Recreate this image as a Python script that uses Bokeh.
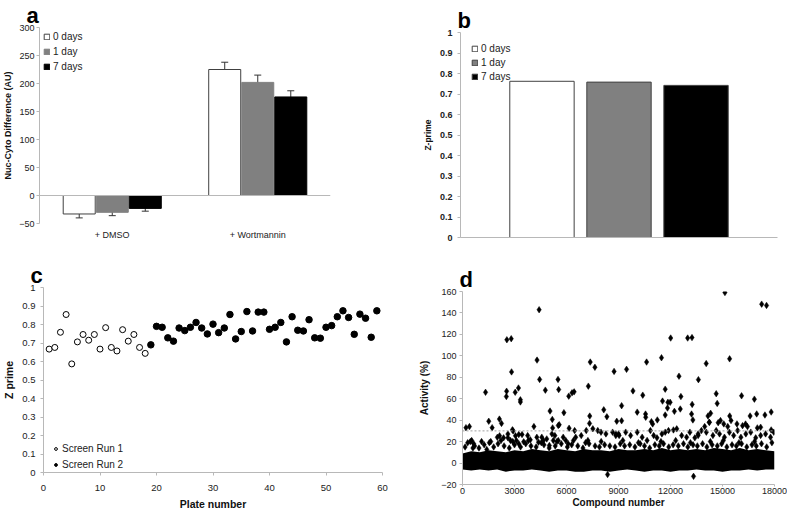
from bokeh.plotting import figure
from bokeh.layouts import column, row
from bokeh.models import (ColumnDataSource, Whisker, TeeHead, Span, FixedTicker,
                          CustomJSTickFormatter, Range1d, Spacer)
from bokeh.embed import file_html
from bokeh.resources import INLINE

FONT = "Liberation Sans"

# ---------------- data ----------------
# panel a
a_categories = ["+ DMSO", "+ Wortmannin"]
a_series = ["0 days", "1 day", "7 days"]
a_dmso = [-33, -30, -23]
a_dmso_err = [7, 6, 5]
a_wort = [225, 202, 176]
a_wort_err = [13, 13, 11]
a_yticks = [-50, 0, 50, 100, 150, 200, 250, 300]

# panel b
b_series = ["0 days", "1 day", "7 days"]
b_zprime = [0.762, 0.758, 0.742]
z_ticks = [0, 0.1, 0.2, 0.3, 0.4, 0.5, 0.6, 0.7, 0.8, 0.9, 1]

# panel c
c_run1_plate = [1, 2, 3, 4, 5, 6, 7, 8, 9, 10, 11, 12, 13, 14, 15, 16, 17, 18]
c_run1_z = [0.667, 0.676, 0.758, 0.854, 0.587, 0.706, 0.746, 0.715, 0.746, 0.667,
            0.783, 0.676, 0.657, 0.772, 0.710, 0.746, 0.676, 0.644]
c_run2_plate = [19, 20, 21, 22, 23, 24, 25, 26, 27, 28, 29, 30, 31, 32, 33, 34, 35, 36, 37, 38,
                39, 40, 41, 42, 43, 44, 45, 46, 47, 48, 49, 50, 51, 52, 53, 54, 55, 56, 57, 58, 59]
c_run2_z = [0.690, 0.790, 0.785, 0.728, 0.710, 0.781, 0.767, 0.785, 0.811, 0.781,
            0.749, 0.802, 0.756, 0.781, 0.854, 0.722, 0.762, 0.870, 0.765, 0.867,
            0.867, 0.774, 0.785, 0.811, 0.706, 0.842, 0.769, 0.765, 0.826, 0.728,
            0.726, 0.785, 0.794, 0.842, 0.874, 0.838, 0.747, 0.856, 0.834, 0.731, 0.874]
c_xticks = [0, 10, 20, 30, 40, 50, 60]

# panel d: envelope of the dense band of inactive compounds, plus individual compounds
d_band_compound = [0, 500, 1000, 1500, 2000, 2500, 3000, 3500, 4000, 4500, 5000, 5500, 6000,
                   6500, 7000, 7500, 8000, 8500, 9000, 9500, 10000, 10500, 11000, 11500, 12000,
                   12500, 13000, 13500, 14000, 14500, 15000, 15500, 16000, 16500, 17000, 17500,
                   18000]
d_band_top = [9, 11, 10, 12, 11, 10, 12, 11, 13, 12, 11, 13, 12, 11, 13, 12, 12, 11, 13, 12,
              12, 13, 12, 14, 12, 13, 12, 13, 12, 14, 13, 12, 14, 12, 13, 12, 11]
d_band_bottom = [-6, -7, -6, -7, -6, -8, -7, -7, -6, -7, -8, -7, -7, -8, -8, -7, -7, -8, -7, -6,
                 -7, -8, -7, -7, -8, -7, -7, -6, -7, -7, -8, -7, -7, -6, -7, -6, -6]
d_compound = [200, 400, 1330, 1515, 1710, 2130, 2250, 2545, 2530, 2560, 2810, 2830, 2880, 3040,
              3230, 3340, 3340, 4120, 4300, 4420, 4450, 4780, 5050, 5180, 5510, 5550, 5580,
              5850, 6130, 6320, 6440, 7260, 7370, 7340, 7330, 7640, 8150, 8330, 8745, 8900,
              9180, 9180, 9465, 9835, 10080, 10400, 10560, 10570, 10620, 10900, 10970, 11240,
              11480, 11540, 11695, 11695, 11825, 11850, 11980, 12010, 12225, 12490, 12565,
              12600, 12990, 13240, 13250, 13215, 13290, 13610, 14060, 14163, 14315, 14240,
              14637, 14694, 14750, 15140, 15410, 15416, 15492, 16100, 16330, 16593, 16840,
              16973, 17201, 17260, 17448, 17540, 17809, 17809,
              8370, 13330,
              530, 300, 645, 600, 1100, 1400, 1630, 2010, 2140, 2220, 2370, 2620, 2620, 2770,
              2920, 3055, 3245, 3435, 3760, 3110, 3530, 3245, 3910, 4290, 4385,
              5525, 6150, 5200, 5160, 5330, 4575, 4670, 4860, 5010, 5240, 5525, 5810, 5960,
              6095, 6470, 6530, 6850, 7140, 7235, 7520, 7805, 7990, 8275, 8660, 8845, 9000,
              9416, 9700, 10080, 10365, 10650, 10840, 11030, 11220, 11505, 11695, 11885,
              12170, 12360, 12645, 12930, 13120, 13405, 13595, 9036, 8846,
              13593, 13783, 14068, 14447, 14637, 14827, 15112, 15397, 15644, 15872, 16062,
              16347, 16631, 16916, 17201, 17486, 17771, 17961,
              14884, 15074, 15302, 15834, 16156, 16441, 17011, 13973, 14239,
              150, 700, 950, 1250, 1800, 2050, 2400, 2700, 3000, 3350, 3650, 3950, 4250,
              4700, 5000, 5350, 5700, 6050, 6300, 6650, 6950, 7300, 7650, 7900, 8200, 8500,
              8800, 9100, 9350, 9650, 9950, 10250, 10500, 10800, 11100, 11350, 11600, 11900,
              12150, 12450, 12750, 13000, 13300, 13550, 13850, 14100, 14400, 14700, 14950,
              15250, 15550, 15800, 16100, 16400, 16700, 16950, 17250, 17550, 17850,
              450, 1550, 2900, 3800, 4550, 5450, 6400, 7100, 8000, 9250, 10150, 11450, 12300,
              13150, 14300, 15050, 15950, 16850, 17650]
d_activity = [33, 34, 66, 39, 33, 41, 37, 67, 62, 115, 116, 85, 31, 66,
              70, 59, 57, 34, 96, 143, 78, 68, 48.5, 40.7, 78, 68.5, 35.8,
              47, 62.4, 65.5, 66.4, 71.7, 94.2, 43.8, 37, 89.3, 49.7, 43.2, 85.5, 39,
              39.4, 53.5, 87.4, 67.3, 47.5, 63.3, 45.7, 42.7, 94.2, 38.6, 36.5, 40.2,
              98.2, 57.8, 68.9, 44.8, 51.3, 56.6, 56.6, 116.6, 48.2, 81, 50.4,
              62, 116.6, 117, 54.7, 45.7, 40.2, 77.8, 92.8, 43.9, 46.4, 38,
              64.7, 55.6, 37.7, 159, 97.2, 43.9, 39.6, 62.7, 36.4, 43.9, 59.6,
              45.8, 33.4, 148.2, 44.8, 147, 47.6, 30.9,
              -10.7, -12.4,
              21, 19, 18, 14, 20, 12.7, 20, 24, 25.4, 21, 23.5, 27, 23.5, 21,
              30, 25.4, 26.6, 26.6, 25.6, 21, 19.8, 18, 21.7, 24, 19.5,
              35, 32.5, 32.8, 27.2, 25.6, 24.1, 21, 22.5, 16.4, 21, 21, 24.1, 21,
              18, 30.3, 24.1, 25.6, 30.3, 21, 32, 30.3, 28.8, 27.2, 28.8, 25.6, 27.2,
              28.8, 25.7, 28.8, 24.1, 21.1, 30.3, 25.7, 23.5, 27.2, 28.8, 30.3,
              30.9, 31.9, 25.7, 24.1, 28.8, 23.5, 25.7, 25.7, 27.2,
              27.2, 30.3, 28.8, 25.7, 30.3, 27.2, 24.1, 28.8, 25.7, 30.3, 24.1,
              27.2, 28.8, 23.5, 25.7, 27.2, 24.1, 28.8,
              39.6, 36.5, 34, 36.5, 34.9, 34, 32.8, 34, 38,
              15, 16, 14, 17, 15, 18, 16, 14, 17, 15, 18, 16, 15,
              17, 14, 16, 18, 15, 17, 16, 14, 18, 16, 15, 17, 16,
              15, 18, 16, 17, 15, 18, 16, 14, 17, 16, 18, 15,
              17, 16, 18, 15, 17, 16, 18, 15, 17, 16, 18,
              15, 17, 16, 18, 15, 17, 16, 18, 15,
              19, 20, 19, 20, 21, 19, 20, 21, 19, 20, 21, 19, 20,
              21, 19, 20, 21, 19, 20]
d_threshold = 30
d_xticks = [0, 3000, 6000, 9000, 12000, 15000, 18000]
d_yticks = [-20, 0, 20, 40, 60, 80, 100, 120, 140, 160]

# ---------------- styles ----------------
series_fill = ["#ffffff", "#808080", "#000000"]
series_line = ["#404040", "#808080", "#000000"]
AXIS_GREY = "#b8b8b8"
TEXT = "#222222"
z_fmt = CustomJSTickFormatter(code="return (Math.round(tick*10)/10).toString()")


def base_style(p, tick_size="9.5px", bold_ticks=False, title_size="10px"):
    p.grid.visible = False
    p.outline_line_color = None
    p.background_fill_color = "white"
    p.border_fill_color = "white"
    for ax in list(p.xaxis) + list(p.yaxis):
        ax.axis_line_color = AXIS_GREY
        ax.major_tick_line_color = AXIS_GREY
        ax.minor_tick_line_color = None
        ax.major_tick_in = 0
        ax.major_tick_out = 3
        ax.major_label_standoff = 3
        ax.major_label_text_font = FONT
        ax.major_label_text_font_size = tick_size
        ax.major_label_text_color = TEXT
        if bold_ticks:
            ax.major_label_text_font_style = "bold"
        ax.axis_label_text_font = FONT
        ax.axis_label_text_font_style = "bold"
        ax.axis_label_text_font_size = title_size
        ax.axis_label_text_color = "#111111"
        ax.axis_label_standoff = 4


def legend_style(p, loc, margin=4):
    lg = p.legend[0]
    lg.location = loc
    lg.background_fill_alpha = 0
    lg.border_line_color = None
    lg.label_text_font = FONT
    lg.label_text_font_size = "10px"
    lg.label_text_color = TEXT
    lg.glyph_width = 7
    lg.glyph_height = 7
    lg.label_height = 11
    lg.label_standoff = 3
    lg.spacing = 4
    lg.padding = 2
    lg.margin = margin


def letter(p, text, offset):
    p.title.text = text
    p.title.text_font = FONT
    p.title.text_font_size = "22px"
    p.title.text_font_style = "bold"
    p.title.text_color = "#000000"
    p.title.align = "left"
    p.title.offset = offset
    p.title.standoff = 0


# ---------------- panel a ----------------
pa = figure(frame_width=291, frame_height=196, output_backend="svg", toolbar_location=None,
            x_range=Range1d(0, 2), y_range=Range1d(-50, 300),
            min_border_left=34, min_border_right=67, min_border_top=25, min_border_bottom=31)
offsets = [-0.227, 0, 0.227]
for j, s in enumerate(a_series):
    vals = [a_dmso[j], a_wort[j]]
    errs = [a_dmso_err[j], a_wort_err[j]]
    xs = [i + 0.5 + offsets[j] for i in range(len(a_categories))]
    src = ColumnDataSource(dict(x=xs, top=vals,
                                upper=[v + e for v, e in zip(vals, errs)],
                                lower=[v - e for v, e in zip(vals, errs)]))
    pa.vbar(x="x", top="top", bottom=0, width=0.22, source=src, fill_color=series_fill[j],
            line_color=series_line[j], line_width=1, legend_label=s)
    pa.add_layout(Whisker(source=src, base="x", upper="upper", lower="lower",
                          line_color="#333333", line_width=1,
                          upper_head=TeeHead(size=7, line_color="#333333", line_width=1),
                          lower_head=TeeHead(size=7, line_color="#333333", line_width=1)))
pa.add_layout(Span(location=0, dimension="width", line_color=AXIS_GREY, line_width=1))
base_style(pa, tick_size="9px", title_size="9px")
pa.yaxis.ticker = FixedTicker(ticks=a_yticks)
pa.yaxis.axis_label = "Nuc-Cyto Difference (AU)"
pa.yaxis.axis_label_standoff = 3
pa.yaxis.major_label_standoff = 2
pa.xaxis.ticker = FixedTicker(ticks=[0.5, 1.5])
pa.xaxis.formatter = CustomJSTickFormatter(args=dict(labels=a_categories),
                                           code="return labels[Math.floor(tick)]")
pa.xaxis.axis_line_color = None
pa.xaxis.major_tick_line_color = None
pa.xaxis.major_label_standoff = 3
legend_style(pa, "top_left")
letter(pa, "a", -13)

# ---------------- panel b ----------------
pb = figure(frame_width=317, frame_height=205, output_backend="svg", toolbar_location=None,
            x_range=Range1d(0, 1), y_range=Range1d(0, 1),
            min_border_left=63, min_border_right=12, min_border_top=25, min_border_bottom=17)
for j, s in enumerate(b_series):
    pb.vbar(x=[0.5 + (j - 1) * 0.243], top=[b_zprime[j]], bottom=0, width=0.203,
            fill_color=series_fill[j], line_color="#404040", line_width=1, legend_label=s)
base_style(pb, tick_size="9px", bold_ticks=True, title_size="8.5px")
pb.yaxis.ticker = FixedTicker(ticks=z_ticks)
pb.yaxis.formatter = z_fmt
pb.yaxis.axis_label = "Z-prime"
pb.yaxis.major_label_standoff = 5
pb.xaxis.ticker = FixedTicker(ticks=[])
pb.xaxis.major_label_text_font_size = "0px"
legend_style(pb, "top_left", margin=11)
pb.legend[0].spacing = 3
letter(pb, "b", -3)

# ---------------- panel c ----------------
pc = figure(frame_width=339, frame_height=185, output_backend="svg", toolbar_location=None,
            x_range=Range1d(0, 60), y_range=Range1d(0, 1),
            min_border_left=40, min_border_right=13, min_border_top=33, min_border_bottom=38)
pc.scatter(c_run1_plate, c_run1_z, marker="circle", size=6, fill_color="white",
           line_color="black", line_width=1, legend_label="Screen Run 1")
pc.scatter(c_run2_plate, c_run2_z, marker="circle", size=6.5, fill_color="black",
           line_color="black", legend_label="Screen Run 2")
base_style(pc, tick_size="9.5px", title_size="10.5px")
pc.yaxis.ticker = FixedTicker(ticks=z_ticks)
pc.yaxis.formatter = z_fmt
pc.yaxis.axis_label = "Z prime"
pc.yaxis.major_label_standoff = 5
pc.xaxis.ticker = FixedTicker(ticks=c_xticks)
pc.xaxis.axis_label = "Plate number"
pc.xaxis.major_label_standoff = 9
pc.xaxis.axis_label_standoff = 4
legend_style(pc, (9, 2), margin=0)
pc.legend[0].spacing = 5
letter(pc, "c", -13)

# ---------------- panel d ----------------
pd = figure(frame_width=312, frame_height=193, output_backend="svg", toolbar_location=None,
            x_range=Range1d(0, 18000), y_range=Range1d(-20, 160),
            min_border_left=67, min_border_right=13, min_border_top=33, min_border_bottom=26)
pd.varea(x=d_band_compound, y1=d_band_bottom, y2=d_band_top, fill_color="black")
pd.scatter(d_compound, d_activity, marker="diamond", size=6.5, fill_color="black",
           line_color="black", line_width=0.5)
pd.add_layout(Span(location=d_threshold, dimension="width", line_color="#a0a0a0",
                   line_width=1, line_dash="2 2"))
base_style(pd, tick_size="9px", title_size="10px")
pd.yaxis.ticker = FixedTicker(ticks=d_yticks)
pd.yaxis.axis_label = "Activity (%)"
pd.yaxis.axis_label_standoff = 8
pd.xaxis.ticker = FixedTicker(ticks=d_xticks)
pd.xaxis.axis_label = "Compound number"
pd.xaxis.axis_label_standoff = 0
pd.xaxis.major_label_standoff = 1
pd.xaxis.major_tick_out = 2
letter(pd, "d", -3)

layout = column(row(pa, column(Spacer(width=392, height=5), pb)),
                row(pc, column(Spacer(width=392, height=4), pd)))
open("out.html", "w").write(file_html(layout, INLINE))
